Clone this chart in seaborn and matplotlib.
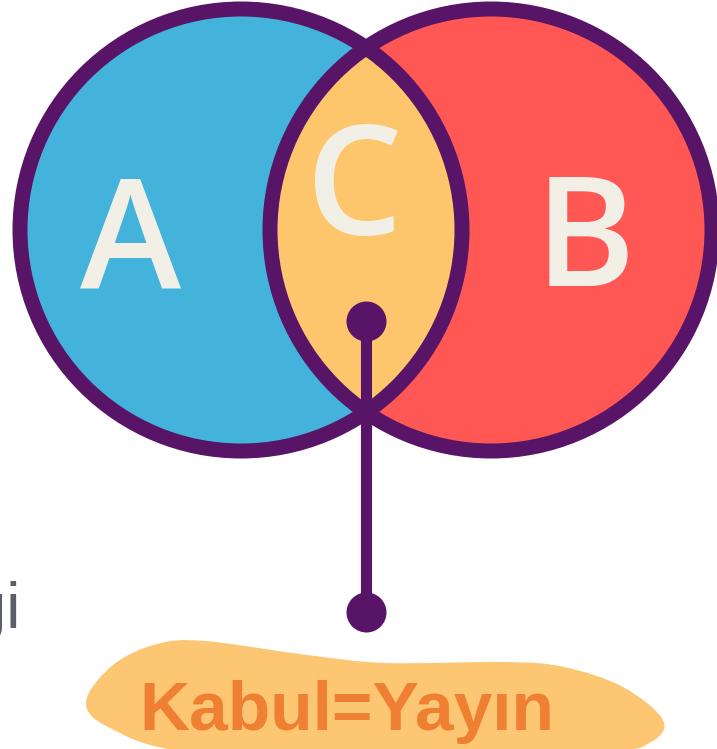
import numpy as np
import pandas as pd
import seaborn as sns
import matplotlib.pyplot as plt
from matplotlib.patches import Circle, PathPatch
from matplotlib.path import Path

# set labels and where they sit (baseline)
set_labels = ["A", "B", "C"]
label_x = [131, 585, 354]
label_y = [287, 286, 235]

# the two sets (pixel space of the picture)
circle_x = [241, 491]
circle_y = [230, 230]
circle_r = 221

# pin from the overlap down to the caption
pin_x = [366, 366]
pin_y = [321, 612]

# caption blob outline
blob_x = [86, 113, 157, 205, 307, 386, 505, 564, 623, 663, 651, 604, 400, 189, 110]
blob_y = [702, 665, 644, 641, 655, 663, 662, 667, 687, 720, 742, 752, 760, 752, 728]
caption = "Kabul=Yayın"

blue = "#44B3DB"
red = "#FF5854"
yellow = "#FEC66C"
purple = "#581466"
cream = "#F2EFE7"

sns.set_theme(style="white")
plt.rcParams['font.family'] = ['DejaVu Sans']

fig = plt.figure(figsize=(7.17, 7.49), dpi=100)
ax = fig.add_axes([0, 0, 1, 1])

# fills
ax.add_patch(Circle((circle_x[0], circle_y[0]), circle_r, color=blue, zorder=1))
ax.add_patch(Circle((circle_x[1], circle_y[1]), circle_r, color=red, zorder=1))
lens = Circle((circle_x[1], circle_y[1]), circle_r, color=yellow, zorder=2)
ax.add_patch(lens)
lens.set_clip_path(Circle((circle_x[0], circle_y[0]), circle_r, transform=ax.transData))

# outlines
for cx, cy in zip(circle_x, circle_y):
    ax.add_patch(Circle((cx, cy), circle_r, fill=False, ec=purple, lw=10.8, zorder=3))

# letters
for lab, x, y in zip(set_labels, label_x, label_y):
    ax.text(x, y, lab, ha='center', va='baseline', fontsize=110, color=cream,
            family='Open Sans', fontweight='semibold', zorder=5)

# pin stem and dots
pin = pd.DataFrame({'x': pin_x, 'y': pin_y})
sns.lineplot(data=pin, x='x', y='y', color=purple, linewidth=8, sort=False,
             estimator=None, errorbar=None, ax=ax, zorder=6)
sns.scatterplot(data=pin, x='x', y='y', color=purple, s=830, linewidth=0, ax=ax, zorder=7)

# blob: closed Catmull-Rom curve through outline points
pts = np.column_stack([blob_x, blob_y]).astype(float)
n = len(pts)
verts = [pts[0]]
codes = [Path.MOVETO]
for i in range(n):
    p0, p1, p2, p3 = pts[i - 1], pts[i], pts[(i + 1) % n], pts[(i + 2) % n]
    verts += [p1 + (p2 - p0) / 6, p2 - (p3 - p1) / 6, p2]
    codes += [Path.CURVE4] * 3
ax.add_patch(PathPatch(Path(verts, codes), fc="#FCC672", ec='none', zorder=1))
ax.text(347, 730, caption, ha='center', va='baseline', fontsize=50, color="#EE7F33",
        family='Liberation Sans', fontweight='bold', zorder=5)

# cut-off word on the left edge (cropped in the original too)
ax.text(21, 628, "Bilgi", ha='right', va='baseline', fontsize=46, color="#5B5F66",
        family='Liberation Sans', zorder=5)

ax.set_xlim(0, 717)
ax.set_ylim(749, 0)
ax.axis('off')

fig.savefig('out.png', dpi=100)
